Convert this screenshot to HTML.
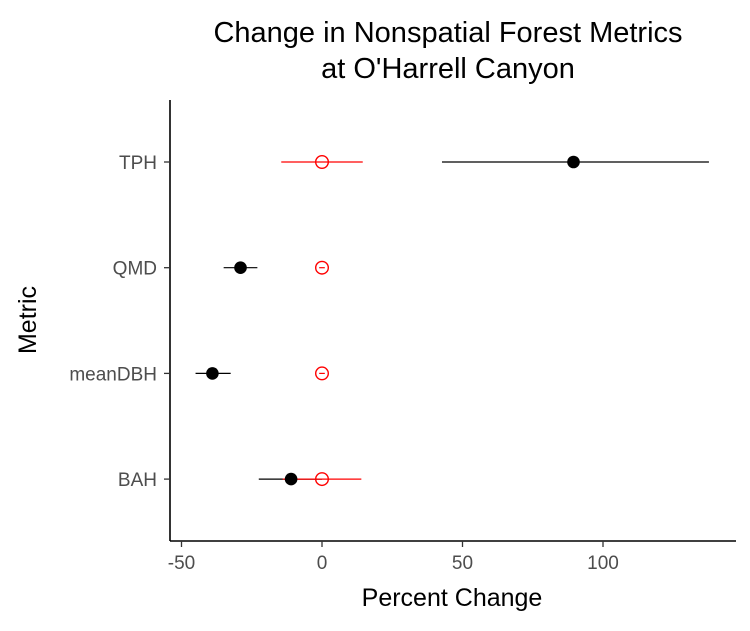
<!DOCTYPE html>
<html><head><meta charset="utf-8"><style>
body{margin:0;background:#fff;font-family:"Liberation Sans",sans-serif}
</style></head><body>
<svg width="750" height="626" viewBox="0 0 750 626">
<text x="448" y="42" font-size="29" text-anchor="middle">Change in Nonspatial Forest Metrics</text>
<text x="448" y="78" font-size="29" text-anchor="middle">at O'Harrell Canyon</text>
<g id="plot"></g>
<text x="452" y="606" font-size="25" text-anchor="middle">Percent Change</text>
<text transform="translate(36,320) rotate(-90)" font-size="25" text-anchor="middle">Metric</text>
</svg>
<script>
const categories=["TPH","QMD","meanDBH","BAH"];
const obsMean=[89.5,-29,-39,-11];
const obsLow=[42.7,-35,-45,-22.5];
const obsHigh=[137.7,-23,-32.5,0];
const refMean=[0,0,0,0];
const refLow=[-14.5,-1,-1,-14];
const refHigh=[14.5,1,1,14];
const xTicks=[-50,0,50,100];
const ns="http://www.w3.org/2000/svg";
const g=document.getElementById("plot");
const x=v=>322+v*2.81;
const y=i=>162+i*105.7;
function mk(t,a){const e=document.createElementNS(ns,t);for(const k in a)e.setAttribute(k,a[k]);g.appendChild(e);return e;}
let e=mk("line",{x1:170,y1:100,x2:170,y2:541,stroke:"#000","stroke-width":1.6});


e=mk("line",{x1:170,y1:541,x2:736,y2:541,stroke:"#000","stroke-width":1.6});


xTicks.forEach(t=>{
 let l=mk("line",{x1:x(t),y1:541,x2:x(t),y2:547,stroke:"#333","stroke-width":1.3});
 
 
 let tx=mk("text",{x:x(t),y:569,"font-size":19,fill:"#4d4d4d","text-anchor":"middle"});
 tx.textContent=t;
 
 
});
categories.forEach((c,i)=>{
 let l=mk("line",{x1:164,y1:y(i),x2:170,y2:y(i),stroke:"#333","stroke-width":1.3});
 
 
 let tx=mk("text",{x:157,y:y(i)+7,"font-size":19,fill:"#4d4d4d","text-anchor":"end"});
 tx.textContent=c;
 
 
 let b=mk("line",{x1:x(obsLow[i]),y1:y(i),x2:x(obsHigh[i]),y2:y(i),stroke:"#000","stroke-width":1.2});
 
 
 let r=mk("line",{x1:x(refLow[i]),y1:y(i),x2:x(refHigh[i]),y2:y(i),stroke:"#f00","stroke-width":1.2});
 
 
 let p=mk("circle",{cx:x(obsMean[i]),cy:y(i),r:6.3,fill:"#000"});
 
 
 let q=mk("circle",{cx:x(refMean[i]),cy:y(i),r:6.3,fill:"none",stroke:"#f00","stroke-width":1.4});
 
 
});
</script>
</body></html>
